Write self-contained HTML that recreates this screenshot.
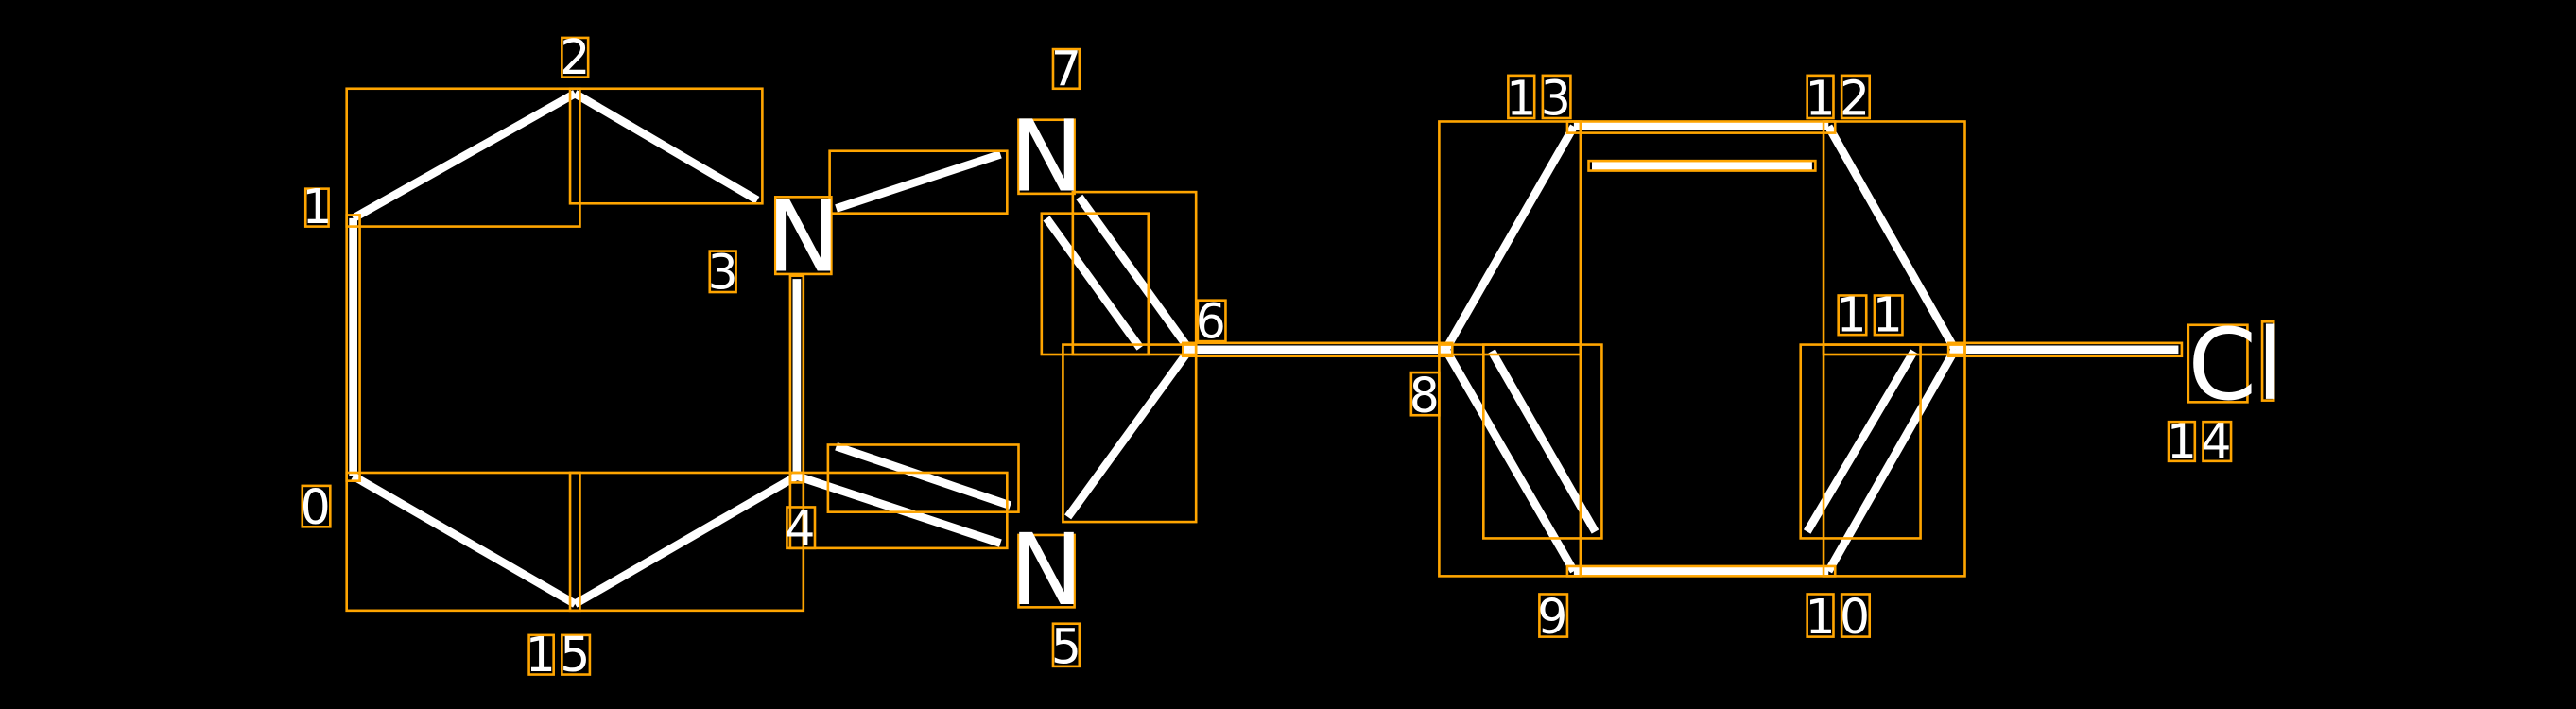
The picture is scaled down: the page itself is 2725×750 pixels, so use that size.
<!DOCTYPE html>
<html><head><meta charset="utf-8"><style>html,body{margin:0;padding:0;background:#000;}svg{display:block}</style></head>
<body>
<svg width="2725" height="750" viewBox="0 0 1568 432" preserveAspectRatio="none" xmlns="http://www.w3.org/2000/svg">
<rect width="1568" height="432" fill="#000"/>
<g stroke="#fff" stroke-width="5" stroke-linecap="butt" fill="none">
<line x1="215" y1="133" x2="350" y2="57"/>
<line x1="350" y1="57" x2="461" y2="122"/>
<line x1="215" y1="133" x2="215" y2="290"/>
<line x1="215" y1="290" x2="350" y2="368"/>
<line x1="350" y1="368" x2="485" y2="290"/>
<line x1="485" y1="170" x2="485" y2="290"/>
<line x1="509" y1="127" x2="609" y2="94"/>
<line x1="485" y1="290" x2="609" y2="331"/>
<line x1="509" y1="272" x2="615" y2="308"/>
<line x1="657" y1="120" x2="724" y2="213"/>
<line x1="637" y1="133" x2="694" y2="212"/>
<line x1="724" y1="213" x2="650" y2="315"/>
<line x1="724" y1="213" x2="880" y2="213"/>
<line x1="880" y1="213" x2="958" y2="77"/>
<line x1="958" y1="77" x2="1113" y2="77"/>
<line x1="969" y1="101" x2="1103" y2="101"/>
<line x1="1113" y1="77" x2="1190" y2="213"/>
<line x1="1190" y1="213" x2="1113" y2="348"/>
<line x1="1165" y1="214" x2="1100" y2="324"/>
<line x1="1113" y1="348" x2="958" y2="348"/>
<line x1="958" y1="348" x2="880" y2="213"/>
<line x1="908" y1="214" x2="971" y2="324"/>
<line x1="1190" y1="213" x2="1326" y2="213"/>
</g>
<g stroke="#FFA500" stroke-width="1.5" fill="none">
<rect x="211" y="54" width="142" height="84"/>
<rect x="347" y="54" width="117" height="70"/>
<rect x="211" y="131" width="8" height="162"/>
<rect x="211" y="288" width="142" height="84"/>
<rect x="347" y="288" width="142" height="84"/>
<rect x="481" y="168" width="8" height="126"/>
<rect x="505" y="92" width="108" height="38"/>
<rect x="481" y="288" width="132" height="46"/>
<rect x="504" y="271" width="116" height="41"/>
<rect x="653" y="117" width="75" height="99"/>
<rect x="634" y="130" width="65" height="86"/>
<rect x="647" y="210" width="81" height="108"/>
<rect x="720" y="209" width="164" height="8"/>
<rect x="876" y="74" width="86" height="142"/>
<rect x="954" y="74" width="163" height="7"/>
<rect x="967" y="98" width="138" height="6"/>
<rect x="1110" y="74" width="86" height="142"/>
<rect x="1110" y="210" width="86" height="141"/>
<rect x="1096" y="210" width="73" height="118"/>
<rect x="954" y="345" width="163" height="6"/>
<rect x="876" y="210" width="86" height="141"/>
<rect x="903" y="210" width="72" height="118"/>
<rect x="1186" y="209" width="142" height="8"/>
<rect x="342" y="23" width="16" height="24"/>
<rect x="186" y="115" width="14" height="23"/>
<rect x="432" y="153" width="16" height="25"/>
<rect x="184" y="296" width="17" height="25"/>
<rect x="322" y="387" width="15" height="24"/>
<rect x="342" y="387" width="17" height="24"/>
<rect x="479" y="309" width="17" height="25"/>
<rect x="641" y="30" width="16" height="24"/>
<rect x="641" y="380" width="16" height="26"/>
<rect x="729" y="183" width="17" height="25"/>
<rect x="859" y="227" width="17" height="26"/>
<rect x="937" y="362" width="17" height="26"/>
<rect x="1100" y="362" width="16" height="26"/>
<rect x="1121" y="362" width="17" height="26"/>
<rect x="1119" y="180" width="17" height="24"/>
<rect x="1141" y="180" width="17" height="24"/>
<rect x="1100" y="46" width="16" height="26"/>
<rect x="1121" y="46" width="17" height="26"/>
<rect x="918" y="46" width="16" height="26"/>
<rect x="939" y="46" width="17" height="26"/>
<rect x="1320" y="257" width="16" height="24"/>
<rect x="1341" y="257" width="17" height="24"/>
<rect x="472" y="120" width="34" height="47"/>
<rect x="620" y="73" width="34" height="45"/>
<rect x="620" y="326" width="34" height="44"/>
<rect x="1332" y="198" width="36" height="47"/>
<rect x="1377" y="196" width="7" height="48"/>
</g>
<g fill="#fff" font-family="DejaVu Sans, Liberation Sans, sans-serif" font-size="29" text-anchor="middle">
<text x="350" y="45">2</text>
<text x="193" y="136">1</text>
<text x="440" y="176">3</text>
<text x="192" y="319">0</text>
<text x="329" y="409">1</text>
<text x="350" y="409">5</text>
<text x="487" y="332">4</text>
<text x="649" y="52">7</text>
<text x="649" y="404">5</text>
<text x="737" y="206">6</text>
<text x="867" y="251">8</text>
<text x="945" y="386">9</text>
<text x="1108" y="386">1</text>
<text x="1129" y="386">0</text>
<text x="1127" y="202">1</text>
<text x="1149" y="202">1</text>
<text x="1108" y="70">1</text>
<text x="1129" y="70">2</text>
<text x="926" y="70">1</text>
<text x="947" y="70">3</text>
<text x="1328" y="279">1</text>
<text x="1349" y="279">4</text>
</g>
<g fill="#fff" font-family="DejaVu Sans, Liberation Sans, sans-serif" font-size="60" text-anchor="middle">
<text x="489" y="165">N</text>
<text x="637" y="116">N</text>
<text x="637" y="368">N</text>
<text x="1361" y="243">Cl</text>
</g>
</svg>
</body></html>
